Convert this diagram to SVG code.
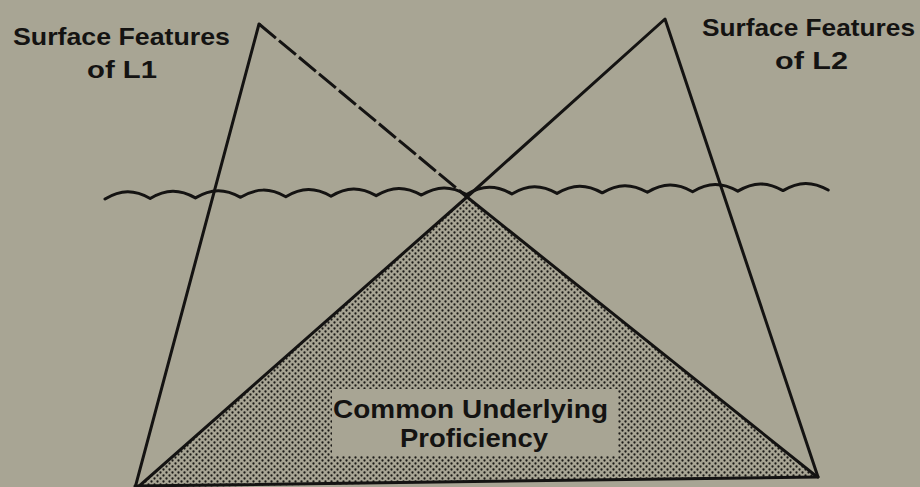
<svg xmlns="http://www.w3.org/2000/svg" width="920" height="487" viewBox="0 0 920 487">
  <defs>
    <pattern id="dots" width="6" height="6" patternUnits="userSpaceOnUse">
      <rect width="6" height="6" fill="#a8a594"/>
      <circle cx="1.5" cy="1.5" r="1.15" fill="#1c1b18"/>
      <circle cx="4.5" cy="4.5" r="1.15" fill="#1c1b18"/>
    </pattern>
  </defs>
  <style>
    .ln { fill: none; stroke: #141312; stroke-width: 3; stroke-linecap: round; stroke-linejoin: round; }
    .dash { stroke-dasharray: 22 4; stroke-linecap: butt; }
    .lbl { font-family: "Liberation Sans", Arial, sans-serif; font-weight: bold; fill: #141312; text-anchor: middle; }
  </style>
  <rect width="920" height="487" fill="#a8a594"/>

  <g id="cup">
    <polygon points="467,197 136,488 816,476" fill="url(#dots)"/>
    <rect x="332" y="389" width="286" height="67" fill="#a8a594"/>
    <text class="lbl" x="470.5" y="418" font-size="26" textLength="275" lengthAdjust="spacingAndGlyphs">Common Underlying</text>
    <text class="lbl" x="474" y="447" font-size="26" textLength="148" lengthAdjust="spacingAndGlyphs">Proficiency</text>
  </g>

  <g id="connectors">
    <!-- L1 triangle -->
    <polyline class="ln" points="135,488 259,24"/>
    <line class="ln dash" x1="259" y1="24" x2="467" y2="197"/>
    <line class="ln" x1="467" y1="197" x2="816" y2="476"/>
    <!-- L2 triangle -->
    <polyline class="ln" points="137,488 467,197 665,19 818,477"/>
    <!-- base -->
    <line class="ln" x1="135" y1="486" x2="818" y2="477" stroke-width="4"/>
    <!-- water line -->
    <path class="ln" d="M105,199 c16,-9.5 29.2,-9.5 45.2,-0.56 c16,-9.5 29.2,-9.5 45.2,-0.56 c16,-9.5 29.2,-9.5 45.2,-0.56 c16,-9.5 29.2,-9.5 45.2,-0.56 c16,-9.5 29.2,-9.5 45.2,-0.56 c16,-9.5 29.2,-9.5 45.2,-0.56 c16,-9.5 29.2,-9.5 45.2,-0.56 c16,-9.5 29.2,-9.5 45.2,-0.56 c16,-9.5 29.2,-9.5 45.2,-0.56 c16,-9.5 29.2,-9.5 45.2,-0.56 c16,-9.5 29.2,-9.5 45.2,-0.56 c16,-9.5 29.2,-9.5 45.2,-0.56 c16,-9.5 29.2,-9.5 45.2,-0.56 c16,-9.5 29.2,-9.5 45.2,-0.56 c16,-9.5 29.2,-9.5 45.2,-0.56 c16,-9.5 29.2,-9.5 45.2,-0.56"/>
  </g>

  <g id="label-l1">
    <text class="lbl" x="121.5" y="45" font-size="24" textLength="217" lengthAdjust="spacingAndGlyphs">Surface Features</text>
    <text class="lbl" x="122" y="78" font-size="24" textLength="70" lengthAdjust="spacingAndGlyphs">of L1</text>
  </g>

  <g id="label-l2">
    <text class="lbl" x="808.5" y="36" font-size="24" textLength="213" lengthAdjust="spacingAndGlyphs">Surface Features</text>
    <text class="lbl" x="811.5" y="69" font-size="24" textLength="73" lengthAdjust="spacingAndGlyphs">of L2</text>
  </g>
</svg>
